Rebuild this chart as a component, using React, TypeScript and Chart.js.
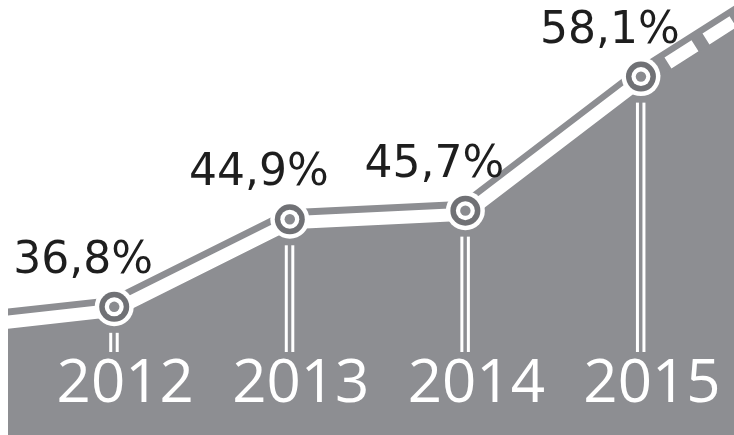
import React, { useEffect, useRef } from "react";
import { Chart, registerables } from "chart.js";

Chart.register(...registerables);

// Data
const years = ["2012", "2013", "2014", "2015"];
const shares = [36.8, 44.9, 45.7, 58.1];
const shareLabels = ["36,8%", "44,9%", "45,7%", "58,1%"];
const leadIn = 35.0; // line continuing off the left edge
const leadOut = 68.4; // dashed projection off the right edge

const AREA = "#8d8e92";
const RING = "#707175";
const DOT = "#8a8b8f";

const W = 726;
const H = 435;

export default function App() {
  const ref = useRef<HTMLCanvasElement | null>(null);

  useEffect(() => {
    const canvas = ref.current;
    if (!canvas) return;

    const lineData = [
      { x: 0, y: leadIn },
      ...shares.map((v, i) => ({ x: i + 1, y: v })),
      { x: years.length + 1, y: leadOut },
    ];
    const lastIdx = years.length; // segment from last year to projection

    const decor = {
      id: "decor",
      beforeDatasetDraw(chart: any, args: any) {
        if (args.index === 1) {
          chart.ctx.save();
          chart.ctx.translate(0, 3.5);
        }
      },
      afterDatasetDraw(chart: any, args: any) {
        if (args.index === 1) chart.ctx.restore();
      },
      afterDatasetsDraw(chart: any) {
        const ctx = chart.ctx as CanvasRenderingContext2D;
        const meta = chart.getDatasetMeta(0);
        const pts = meta.data.slice(1, 1 + years.length);
        ctx.save();
        // vertical double lines
        ctx.fillStyle = "#ffffff";
        pts.forEach((p: any) => {
          const top = p.y + 26;
          const bottom = 352;
          if (bottom > top) {
            ctx.fillRect(p.x - 5, top, 3, bottom - top);
            ctx.fillRect(p.x + 1.5, top, 3, bottom - top);
          }
        });
        // point markers
        pts.forEach((p: any) => {
          const circ = (r: number, c: string) => {
            ctx.beginPath();
            ctx.arc(p.x, p.y, r, 0, Math.PI * 2);
            ctx.fillStyle = c;
            ctx.fill();
          };
          circ(19.5, "#ffffff");
          circ(15, RING);
          circ(9.5, "#ffffff");
          circ(5.2, DOT);
        });
        // value labels
        ctx.fillStyle = "#1e1e1e";
        ctx.font = '44px "DejaVu Sans"';
        ctx.textAlign = "center";
        ctx.textBaseline = "alphabetic";
        pts.forEach((p: any, i: number) => {
          ctx.fillText(shareLabels[i], p.x - 31, p.y - 34);
        });
        // year labels
        ctx.fillStyle = "#ffffff";
        ctx.font = '60px "Open Sans"';
        pts.forEach((p: any, i: number) => {
          ctx.fillText(years[i], p.x + 11, 402);
        });
        ctx.restore();
      },
    };

    const chart = new Chart(canvas, {
      type: "line",
      data: {
        datasets: [
          {
            data: lineData,
            borderColor: AREA,
            backgroundColor: AREA,
            borderWidth: 20,
            fill: "start",
            pointRadius: 0,
            tension: 0,
            borderJoinStyle: "round",
            order: 2,
          },
          {
            data: lineData,
            borderColor: "#ffffff",
            borderWidth: 13,
            fill: false,
            pointRadius: 0,
            tension: 0,
            borderCapStyle: "butt",
            borderJoinStyle: "round",
            order: 1,
            segment: {
              borderDash: (c: any) => (c.p0DataIndex === lastIdx ? [32, 13] : undefined),
              borderDashOffset: (c: any) => (c.p0DataIndex === lastIdx ? 13 : undefined),
            },
          },
        ],
      },
      options: {
        animation: false,
        responsive: false,
        maintainAspectRatio: false,
        layout: { padding: 0 },
        plugins: {
          legend: { display: false },
          tooltip: { enabled: false },
          title: { display: false },
        },
        scales: {
          x: { type: "linear", display: false, min: 0.395, max: 4.530 },
          y: { type: "linear", display: false, min: 24.94, max: 65.19 },
        },
        events: [],
      },
      plugins: [decor],
    } as any);

    return () => chart.destroy();
  }, []);

  return (
    <div style={{ position: "fixed", left: 8, top: 0, width: W, height: H }}>
      <canvas ref={ref} width={W} height={H} style={{ width: W, height: H, display: "block" }} />
    </div>
  );
}
